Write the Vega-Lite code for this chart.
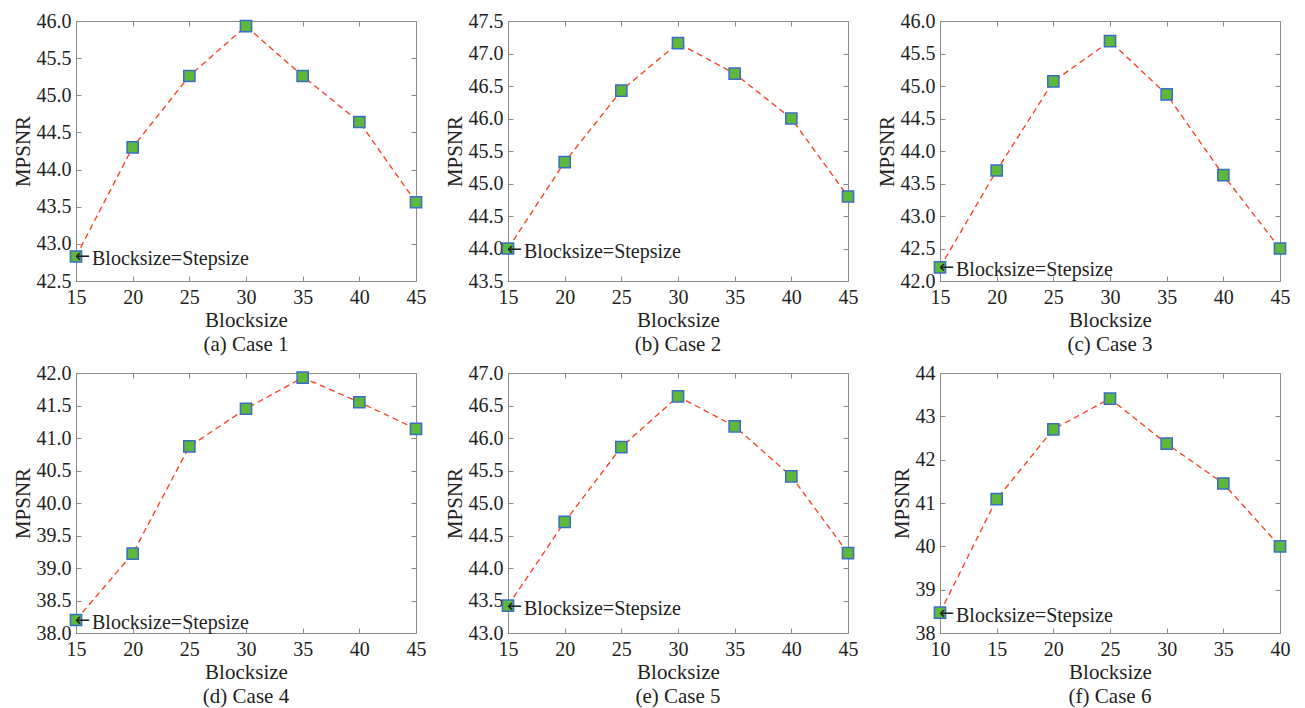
{
  "$schema": "https://vega.github.io/schema/vega-lite/v6.json",
  "background": "white",
  "padding": {"left": 11, "top": 10, "right": 5, "bottom": 5},
  "datasets": {
    "mpsnr": [
      {"case": 1, "blocksize": 15, "mpsnr": 42.83}, {"case": 1, "blocksize": 20, "mpsnr": 44.30}, {"case": 1, "blocksize": 25, "mpsnr": 45.26}, {"case": 1, "blocksize": 30, "mpsnr": 45.93}, {"case": 1, "blocksize": 35, "mpsnr": 45.26}, {"case": 1, "blocksize": 40, "mpsnr": 44.64}, {"case": 1, "blocksize": 45, "mpsnr": 43.56},
      {"case": 2, "blocksize": 15, "mpsnr": 44.00}, {"case": 2, "blocksize": 20, "mpsnr": 45.33}, {"case": 2, "blocksize": 25, "mpsnr": 46.43}, {"case": 2, "blocksize": 30, "mpsnr": 47.16}, {"case": 2, "blocksize": 35, "mpsnr": 46.69}, {"case": 2, "blocksize": 40, "mpsnr": 46.00}, {"case": 2, "blocksize": 45, "mpsnr": 44.80},
      {"case": 3, "blocksize": 15, "mpsnr": 42.21}, {"case": 3, "blocksize": 20, "mpsnr": 43.70}, {"case": 3, "blocksize": 25, "mpsnr": 45.07}, {"case": 3, "blocksize": 30, "mpsnr": 45.69}, {"case": 3, "blocksize": 35, "mpsnr": 44.87}, {"case": 3, "blocksize": 40, "mpsnr": 43.63}, {"case": 3, "blocksize": 45, "mpsnr": 42.50},
      {"case": 4, "blocksize": 15, "mpsnr": 38.20}, {"case": 4, "blocksize": 20, "mpsnr": 39.22}, {"case": 4, "blocksize": 25, "mpsnr": 40.87}, {"case": 4, "blocksize": 30, "mpsnr": 41.45}, {"case": 4, "blocksize": 35, "mpsnr": 41.93}, {"case": 4, "blocksize": 40, "mpsnr": 41.55}, {"case": 4, "blocksize": 45, "mpsnr": 41.14},
      {"case": 5, "blocksize": 15, "mpsnr": 43.42}, {"case": 5, "blocksize": 20, "mpsnr": 44.71}, {"case": 5, "blocksize": 25, "mpsnr": 45.86}, {"case": 5, "blocksize": 30, "mpsnr": 46.64}, {"case": 5, "blocksize": 35, "mpsnr": 46.18}, {"case": 5, "blocksize": 40, "mpsnr": 45.41}, {"case": 5, "blocksize": 45, "mpsnr": 44.23},
      {"case": 6, "blocksize": 10, "mpsnr": 38.47}, {"case": 6, "blocksize": 15, "mpsnr": 41.09}, {"case": 6, "blocksize": 20, "mpsnr": 42.70}, {"case": 6, "blocksize": 25, "mpsnr": 43.41}, {"case": 6, "blocksize": 30, "mpsnr": 42.37}, {"case": 6, "blocksize": 35, "mpsnr": 41.45}, {"case": 6, "blocksize": 40, "mpsnr": 40.00}
    ]
  },
  "data": {"name": "mpsnr"},
  "columns": 3,
  "bounds": "flush",
  "spacing": {"row": 92, "column": 92},
  "concat": [
    {
      "title": "(a) Case 1",
      "width": 340, "height": 260,
      "transform": [{"filter": "datum.case === 1"}],
      "layer": [
        {"mark": {"type": "line", "color": "#ff3a1a", "strokeWidth": 1.3, "strokeDash": [6, 4]},
         "encoding": {
           "x": {"field": "blocksize", "type": "quantitative", "scale": {"domain": [15, 45], "nice": false, "zero": false}, "axis": {"orient": "bottom", "values": [15, 20, 25, 30, 35, 40, 45], "title": "Blocksize"}},
           "y": {"field": "mpsnr", "type": "quantitative", "scale": {"domain": [42.5, 46], "nice": false, "zero": false}, "axis": {"orient": "left", "values": [42.5, 43, 43.5, 44, 44.5, 45, 45.5, 46], "format": ".1f", "title": "MPSNR"}}}},
        {"mark": {"type": "point", "shape": "square", "filled": true, "size": 125, "fill": "#5db83c", "stroke": "#3b6cc6", "strokeWidth": 1.5, "opacity": 1},
         "encoding": {
           "x": {"field": "blocksize", "type": "quantitative", "scale": {"domain": [15, 45], "nice": false, "zero": false}, "axis": {"orient": "top", "values": [15, 20, 25, 30, 35, 40, 45], "labels": false, "title": null}},
           "y": {"field": "mpsnr", "type": "quantitative", "scale": {"domain": [42.5, 46], "nice": false, "zero": false}, "axis": {"orient": "right", "values": [42.5, 43, 43.5, 44, 44.5, 45, 45.5, 46], "labels": false, "title": null}}}},
        {"transform": [{"filter": "datum.blocksize === 15"}],
         "mark": {"type": "text", "text": "←", "align": "left", "baseline": "middle", "font": "DejaVu Sans", "fontSize": 18, "color": "#222", "dx": -1, "dy": 1},
         "encoding": {
           "x": {"field": "blocksize", "type": "quantitative", "scale": {"domain": [15, 45], "nice": false, "zero": false}, "axis": null},
           "y": {"field": "mpsnr", "type": "quantitative", "scale": {"domain": [42.5, 46], "nice": false, "zero": false}, "axis": null}}},
        {"transform": [{"filter": "datum.blocksize === 15"}],
         "mark": {"type": "text", "text": "Blocksize=Stepsize", "align": "left", "baseline": "middle", "font": "Liberation Serif", "fontSize": 20, "color": "#222", "dx": 16, "dy": 3},
         "encoding": {
           "x": {"field": "blocksize", "type": "quantitative", "scale": {"domain": [15, 45], "nice": false, "zero": false}, "axis": null},
           "y": {"field": "mpsnr", "type": "quantitative", "scale": {"domain": [42.5, 46], "nice": false, "zero": false}, "axis": null}}}
      ],
      "resolve": {"axis": {"x": "independent", "y": "independent"}}
    },
    {
      "title": "(b) Case 2",
      "width": 340, "height": 260,
      "transform": [{"filter": "datum.case === 2"}],
      "layer": [
        {"mark": {"type": "line", "color": "#ff3a1a", "strokeWidth": 1.3, "strokeDash": [6, 4]},
         "encoding": {
           "x": {"field": "blocksize", "type": "quantitative", "scale": {"domain": [15, 45], "nice": false, "zero": false}, "axis": {"orient": "bottom", "values": [15, 20, 25, 30, 35, 40, 45], "title": "Blocksize"}},
           "y": {"field": "mpsnr", "type": "quantitative", "scale": {"domain": [43.5, 47.5], "nice": false, "zero": false}, "axis": {"orient": "left", "values": [43.5, 44, 44.5, 45, 45.5, 46, 46.5, 47, 47.5], "format": ".1f", "title": "MPSNR"}}}},
        {"mark": {"type": "point", "shape": "square", "filled": true, "size": 125, "fill": "#5db83c", "stroke": "#3b6cc6", "strokeWidth": 1.5, "opacity": 1},
         "encoding": {
           "x": {"field": "blocksize", "type": "quantitative", "scale": {"domain": [15, 45], "nice": false, "zero": false}, "axis": {"orient": "top", "values": [15, 20, 25, 30, 35, 40, 45], "labels": false, "title": null}},
           "y": {"field": "mpsnr", "type": "quantitative", "scale": {"domain": [43.5, 47.5], "nice": false, "zero": false}, "axis": {"orient": "right", "values": [43.5, 44, 44.5, 45, 45.5, 46, 46.5, 47, 47.5], "labels": false, "title": null}}}},
        {"transform": [{"filter": "datum.blocksize === 15"}],
         "mark": {"type": "text", "text": "←", "align": "left", "baseline": "middle", "font": "DejaVu Sans", "fontSize": 18, "color": "#222", "dx": -1, "dy": 1},
         "encoding": {
           "x": {"field": "blocksize", "type": "quantitative", "scale": {"domain": [15, 45], "nice": false, "zero": false}, "axis": null},
           "y": {"field": "mpsnr", "type": "quantitative", "scale": {"domain": [43.5, 47.5], "nice": false, "zero": false}, "axis": null}}},
        {"transform": [{"filter": "datum.blocksize === 15"}],
         "mark": {"type": "text", "text": "Blocksize=Stepsize", "align": "left", "baseline": "middle", "font": "Liberation Serif", "fontSize": 20, "color": "#222", "dx": 16, "dy": 3},
         "encoding": {
           "x": {"field": "blocksize", "type": "quantitative", "scale": {"domain": [15, 45], "nice": false, "zero": false}, "axis": null},
           "y": {"field": "mpsnr", "type": "quantitative", "scale": {"domain": [43.5, 47.5], "nice": false, "zero": false}, "axis": null}}}
      ],
      "resolve": {"axis": {"x": "independent", "y": "independent"}}
    },
    {
      "title": "(c) Case 3",
      "width": 340, "height": 260,
      "transform": [{"filter": "datum.case === 3"}],
      "layer": [
        {"mark": {"type": "line", "color": "#ff3a1a", "strokeWidth": 1.3, "strokeDash": [6, 4]},
         "encoding": {
           "x": {"field": "blocksize", "type": "quantitative", "scale": {"domain": [15, 45], "nice": false, "zero": false}, "axis": {"orient": "bottom", "values": [15, 20, 25, 30, 35, 40, 45], "title": "Blocksize"}},
           "y": {"field": "mpsnr", "type": "quantitative", "scale": {"domain": [42, 46], "nice": false, "zero": false}, "axis": {"orient": "left", "values": [42, 42.5, 43, 43.5, 44, 44.5, 45, 45.5, 46], "format": ".1f", "title": "MPSNR"}}}},
        {"mark": {"type": "point", "shape": "square", "filled": true, "size": 125, "fill": "#5db83c", "stroke": "#3b6cc6", "strokeWidth": 1.5, "opacity": 1},
         "encoding": {
           "x": {"field": "blocksize", "type": "quantitative", "scale": {"domain": [15, 45], "nice": false, "zero": false}, "axis": {"orient": "top", "values": [15, 20, 25, 30, 35, 40, 45], "labels": false, "title": null}},
           "y": {"field": "mpsnr", "type": "quantitative", "scale": {"domain": [42, 46], "nice": false, "zero": false}, "axis": {"orient": "right", "values": [42, 42.5, 43, 43.5, 44, 44.5, 45, 45.5, 46], "labels": false, "title": null}}}},
        {"transform": [{"filter": "datum.blocksize === 15"}],
         "mark": {"type": "text", "text": "←", "align": "left", "baseline": "middle", "font": "DejaVu Sans", "fontSize": 18, "color": "#222", "dx": -1, "dy": 1},
         "encoding": {
           "x": {"field": "blocksize", "type": "quantitative", "scale": {"domain": [15, 45], "nice": false, "zero": false}, "axis": null},
           "y": {"field": "mpsnr", "type": "quantitative", "scale": {"domain": [42, 46], "nice": false, "zero": false}, "axis": null}}},
        {"transform": [{"filter": "datum.blocksize === 15"}],
         "mark": {"type": "text", "text": "Blocksize=Stepsize", "align": "left", "baseline": "middle", "font": "Liberation Serif", "fontSize": 20, "color": "#222", "dx": 16, "dy": 3},
         "encoding": {
           "x": {"field": "blocksize", "type": "quantitative", "scale": {"domain": [15, 45], "nice": false, "zero": false}, "axis": null},
           "y": {"field": "mpsnr", "type": "quantitative", "scale": {"domain": [42, 46], "nice": false, "zero": false}, "axis": null}}}
      ],
      "resolve": {"axis": {"x": "independent", "y": "independent"}}
    },
    {
      "title": "(d) Case 4",
      "width": 340, "height": 260,
      "transform": [{"filter": "datum.case === 4"}],
      "layer": [
        {"mark": {"type": "line", "color": "#ff3a1a", "strokeWidth": 1.3, "strokeDash": [6, 4]},
         "encoding": {
           "x": {"field": "blocksize", "type": "quantitative", "scale": {"domain": [15, 45], "nice": false, "zero": false}, "axis": {"orient": "bottom", "values": [15, 20, 25, 30, 35, 40, 45], "title": "Blocksize"}},
           "y": {"field": "mpsnr", "type": "quantitative", "scale": {"domain": [38, 42], "nice": false, "zero": false}, "axis": {"orient": "left", "values": [38, 38.5, 39, 39.5, 40, 40.5, 41, 41.5, 42], "format": ".1f", "title": "MPSNR"}}}},
        {"mark": {"type": "point", "shape": "square", "filled": true, "size": 125, "fill": "#5db83c", "stroke": "#3b6cc6", "strokeWidth": 1.5, "opacity": 1},
         "encoding": {
           "x": {"field": "blocksize", "type": "quantitative", "scale": {"domain": [15, 45], "nice": false, "zero": false}, "axis": {"orient": "top", "values": [15, 20, 25, 30, 35, 40, 45], "labels": false, "title": null}},
           "y": {"field": "mpsnr", "type": "quantitative", "scale": {"domain": [38, 42], "nice": false, "zero": false}, "axis": {"orient": "right", "values": [38, 38.5, 39, 39.5, 40, 40.5, 41, 41.5, 42], "labels": false, "title": null}}}},
        {"transform": [{"filter": "datum.blocksize === 15"}],
         "mark": {"type": "text", "text": "←", "align": "left", "baseline": "middle", "font": "DejaVu Sans", "fontSize": 18, "color": "#222", "dx": -1, "dy": 1},
         "encoding": {
           "x": {"field": "blocksize", "type": "quantitative", "scale": {"domain": [15, 45], "nice": false, "zero": false}, "axis": null},
           "y": {"field": "mpsnr", "type": "quantitative", "scale": {"domain": [38, 42], "nice": false, "zero": false}, "axis": null}}},
        {"transform": [{"filter": "datum.blocksize === 15"}],
         "mark": {"type": "text", "text": "Blocksize=Stepsize", "align": "left", "baseline": "middle", "font": "Liberation Serif", "fontSize": 20, "color": "#222", "dx": 16, "dy": 3},
         "encoding": {
           "x": {"field": "blocksize", "type": "quantitative", "scale": {"domain": [15, 45], "nice": false, "zero": false}, "axis": null},
           "y": {"field": "mpsnr", "type": "quantitative", "scale": {"domain": [38, 42], "nice": false, "zero": false}, "axis": null}}}
      ],
      "resolve": {"axis": {"x": "independent", "y": "independent"}}
    },
    {
      "title": "(e) Case 5",
      "width": 340, "height": 260,
      "transform": [{"filter": "datum.case === 5"}],
      "layer": [
        {"mark": {"type": "line", "color": "#ff3a1a", "strokeWidth": 1.3, "strokeDash": [6, 4]},
         "encoding": {
           "x": {"field": "blocksize", "type": "quantitative", "scale": {"domain": [15, 45], "nice": false, "zero": false}, "axis": {"orient": "bottom", "values": [15, 20, 25, 30, 35, 40, 45], "title": "Blocksize"}},
           "y": {"field": "mpsnr", "type": "quantitative", "scale": {"domain": [43, 47], "nice": false, "zero": false}, "axis": {"orient": "left", "values": [43, 43.5, 44, 44.5, 45, 45.5, 46, 46.5, 47], "format": ".1f", "title": "MPSNR"}}}},
        {"mark": {"type": "point", "shape": "square", "filled": true, "size": 125, "fill": "#5db83c", "stroke": "#3b6cc6", "strokeWidth": 1.5, "opacity": 1},
         "encoding": {
           "x": {"field": "blocksize", "type": "quantitative", "scale": {"domain": [15, 45], "nice": false, "zero": false}, "axis": {"orient": "top", "values": [15, 20, 25, 30, 35, 40, 45], "labels": false, "title": null}},
           "y": {"field": "mpsnr", "type": "quantitative", "scale": {"domain": [43, 47], "nice": false, "zero": false}, "axis": {"orient": "right", "values": [43, 43.5, 44, 44.5, 45, 45.5, 46, 46.5, 47], "labels": false, "title": null}}}},
        {"transform": [{"filter": "datum.blocksize === 15"}],
         "mark": {"type": "text", "text": "←", "align": "left", "baseline": "middle", "font": "DejaVu Sans", "fontSize": 18, "color": "#222", "dx": -1, "dy": 1},
         "encoding": {
           "x": {"field": "blocksize", "type": "quantitative", "scale": {"domain": [15, 45], "nice": false, "zero": false}, "axis": null},
           "y": {"field": "mpsnr", "type": "quantitative", "scale": {"domain": [43, 47], "nice": false, "zero": false}, "axis": null}}},
        {"transform": [{"filter": "datum.blocksize === 15"}],
         "mark": {"type": "text", "text": "Blocksize=Stepsize", "align": "left", "baseline": "middle", "font": "Liberation Serif", "fontSize": 20, "color": "#222", "dx": 16, "dy": 3},
         "encoding": {
           "x": {"field": "blocksize", "type": "quantitative", "scale": {"domain": [15, 45], "nice": false, "zero": false}, "axis": null},
           "y": {"field": "mpsnr", "type": "quantitative", "scale": {"domain": [43, 47], "nice": false, "zero": false}, "axis": null}}}
      ],
      "resolve": {"axis": {"x": "independent", "y": "independent"}}
    },
    {
      "title": "(f) Case 6",
      "width": 340, "height": 260,
      "transform": [{"filter": "datum.case === 6"}],
      "layer": [
        {"mark": {"type": "line", "color": "#ff3a1a", "strokeWidth": 1.3, "strokeDash": [6, 4]},
         "encoding": {
           "x": {"field": "blocksize", "type": "quantitative", "scale": {"domain": [10, 40], "nice": false, "zero": false}, "axis": {"orient": "bottom", "values": [10, 15, 20, 25, 30, 35, 40], "title": "Blocksize"}},
           "y": {"field": "mpsnr", "type": "quantitative", "scale": {"domain": [38, 44], "nice": false, "zero": false}, "axis": {"orient": "left", "values": [38, 39, 40, 41, 42, 43, 44], "format": "d", "title": "MPSNR"}}}},
        {"mark": {"type": "point", "shape": "square", "filled": true, "size": 125, "fill": "#5db83c", "stroke": "#3b6cc6", "strokeWidth": 1.5, "opacity": 1},
         "encoding": {
           "x": {"field": "blocksize", "type": "quantitative", "scale": {"domain": [10, 40], "nice": false, "zero": false}, "axis": {"orient": "top", "values": [10, 15, 20, 25, 30, 35, 40], "labels": false, "title": null}},
           "y": {"field": "mpsnr", "type": "quantitative", "scale": {"domain": [38, 44], "nice": false, "zero": false}, "axis": {"orient": "right", "values": [38, 39, 40, 41, 42, 43, 44], "labels": false, "title": null}}}},
        {"transform": [{"filter": "datum.blocksize === 10"}],
         "mark": {"type": "text", "text": "←", "align": "left", "baseline": "middle", "font": "DejaVu Sans", "fontSize": 18, "color": "#222", "dx": -1, "dy": 1},
         "encoding": {
           "x": {"field": "blocksize", "type": "quantitative", "scale": {"domain": [10, 40], "nice": false, "zero": false}, "axis": null},
           "y": {"field": "mpsnr", "type": "quantitative", "scale": {"domain": [38, 44], "nice": false, "zero": false}, "axis": null}}},
        {"transform": [{"filter": "datum.blocksize === 10"}],
         "mark": {"type": "text", "text": "Blocksize=Stepsize", "align": "left", "baseline": "middle", "font": "Liberation Serif", "fontSize": 20, "color": "#222", "dx": 16, "dy": 3},
         "encoding": {
           "x": {"field": "blocksize", "type": "quantitative", "scale": {"domain": [10, 40], "nice": false, "zero": false}, "axis": null},
           "y": {"field": "mpsnr", "type": "quantitative", "scale": {"domain": [38, 44], "nice": false, "zero": false}, "axis": null}}}
      ],
      "resolve": {"axis": {"x": "independent", "y": "independent"}}
    }
  ],
  "config": {
    "view": {"stroke": "#8a8a8a", "strokeWidth": 1},
    "axis": {
      "grid": false,
      "domainColor": "#8a8a8a",
      "tickColor": "#8a8a8a",
      "tickSize": -5,
      "labelFont": "Liberation Serif",
      "labelFontSize": 20,
      "labelColor": "#222",
      "labelFlush": false,
      "labelOverlap": false,
      "titleFont": "Liberation Serif",
      "titleFontSize": 21,
      "titleFontWeight": "normal",
      "titleColor": "#222"
    },
    "axisX": {"labelPadding": 11, "titlePadding": 2},
    "axisY": {"labelPadding": 10, "titlePadding": 3},
    "title": {"font": "Liberation Serif", "fontSize": 21, "fontWeight": "normal", "color": "#222", "orient": "bottom", "anchor": "middle", "offset": 4}
  }
}
